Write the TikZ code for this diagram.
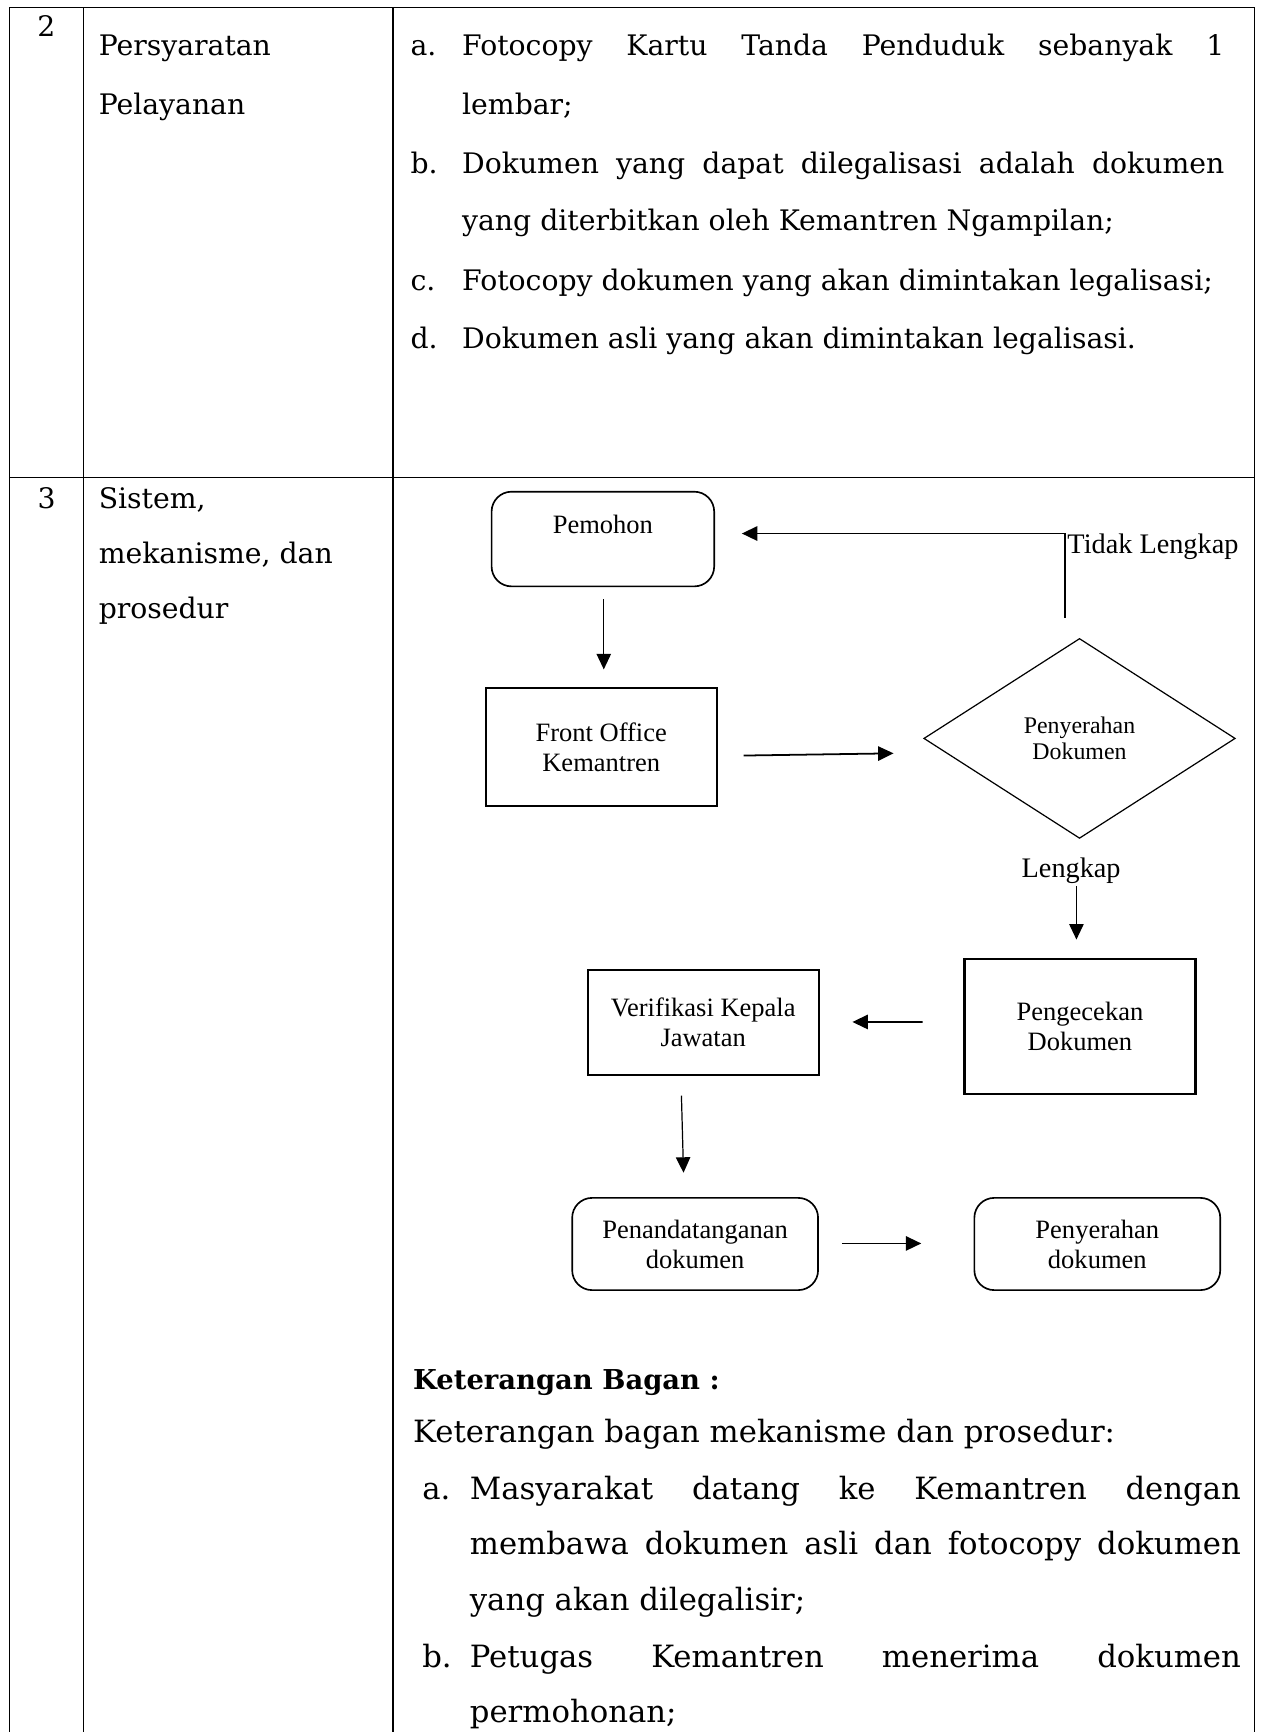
\documentclass[tikz,border=0pt]{standalone}
\usepackage{fontspec}
\usetikzlibrary{shapes.geometric,arrows.meta,calc}
% Wide serif face for the table, Times-metric face for the chart
\newfontfamily\bkface{DejaVu Serif}
\newfontfamily\tmface{Liberation Serif}
\newcommand\bkfont{\bkface\fontsize{12.8}{25.5}\selectfont}
\newcommand\bkbig{\bkface\fontsize{13.9}{25.5}\selectfont}
\newcommand\bkbold{\bkface\bfseries\fontsize{12.4}{25.5}\selectfont}
\newcommand\tmfont{\tmface\fontsize{12}{13.6}\selectfont}
\newcommand\lblfont{\tmface\fontsize{12.8}{14}\selectfont}
\newcommand\dmfont{\tmface\fontsize{10.8}{11.75}\selectfont}

\begin{document}
\begin{tikzpicture}[x=0.5pt,y=-0.5pt,
  grid/.style={line width=0.6pt},
  cell/.style={anchor=base west, inner sep=0pt, font=\bkfont},
  lowcell/.style={anchor=base west, inner sep=0pt, font=\bkbig},
  rbox/.style={draw, line width=0.75pt, rounded corners=9pt, align=center, font=\tmfont, inner sep=0pt},
  sbox/.style={draw, line width=1pt, align=center, font=\tmfont, inner sep=0pt},
  arr/.style={-{Triangle[length=7pt,width=6.5pt]}, line width=0.55pt},
  harr/.style={arr, line width=0.8pt},
  lbl/.style={inner sep=0pt, font=\lblfont}]
\useasboundingbox (0,0) rectangle (1142,1568);

% ---- table frame ----
\draw[grid] (8.5,1568) -- (8.5,6.6) -- (1135.5,6.6) -- (1135.5,1568);
\draw[grid] (75.3,6.6) -- (75.3,1568);
\draw[grid] (355.8,6.6) -- (355.8,1568);
\draw[grid] (8.5,432.5) -- (1135.5,432.5);

% ---- row 2 ----
\node[cell, anchor=base] (n2) at (42,32.6) {2};
\node[cell] (r2a) at (89,50) {Persyaratan};
\node[cell] (r2b) at (89,103.5) {Pelayanan};

\node[cell] (la) at (371.3,49.8) {a.};
\node[cell] (ta1) at (418,49.8) {\makebox[345pt][s]{Fotocopy Kartu Tanda Penduduk sebanyak 1}};
\node[cell] (ta2) at (418,103.5) {lembar;};
\node[cell] (lb) at (371.3,157) {b.};
\node[cell] (tb1) at (418,157) {\makebox[345pt][s]{Dokumen yang dapat dilegalisasi adalah dokumen}};
\node[cell] (tb2) at (418,208.3) {yang diterbitkan oleh Kemantren Ngampilan;};
\node[cell] (lc) at (371.3,262.6) {c.};
\node[cell] (tc) at (418,262.6) {Fotocopy dokumen yang akan dimintakan legalisasi;};
\node[cell] (ld) at (371.3,315.4) {d.};
\node[cell] (td) at (418,315.4) {Dokumen asli yang akan dimintakan legalisasi.};

% ---- row 3 ----
\node[cell, anchor=base] (n3) at (42.3,460) {3};
\node[cell] (r3a) at (89,460) {Sistem,};
\node[cell] (r3b) at (89,510) {mekanisme, dan};
\node[cell] (r3c) at (89,560) {prosedur};

% ---- flowchart ----
\node[rbox, minimum width=100.75pt, text height=18.7pt, text depth=24.15pt] (pem) at (545.8,488) {Pemohon};
\node[sbox, minimum width=104.5pt, minimum height=53.5pt] (fo) at (544.3,676.5) {Front Office\\Kemantren};
\node[diamond, draw, line width=0.55pt, minimum width=141pt, minimum height=90.5pt, inner sep=0pt, align=center, font=\dmfont] (dia) at (977.3,668.5) {Penyerahan\\Dokumen};
\node[sbox, minimum width=104.5pt, minimum height=61pt] (pc) at (977.7,929.5) {Pengecekan\\Dokumen};
\node[sbox, minimum width=104.5pt, minimum height=47.3pt] (vk) at (636.6,925.7) {Verifikasi Kepala\\Jawatan};
\node[rbox, minimum width=111.3pt, minimum height=41.75pt] (pt) at (629.3,1126.2) {Penandatanganan\\dokumen};
\node[rbox, minimum width=111.3pt, minimum height=41.75pt] (ps) at (993.4,1126.2) {Penyerahan\\dokumen};

\node[lbl, anchor=base west] (tl) at (966,501.3) {Tidak Lengkap};
\node[lbl, anchor=base] (lk) at (969.7,794.5) {Lengkap};

\draw[arr] ($(pem.south)+(0.8,11)$) -- ($(fo.north)+(2.3,-16)$);
\draw[harr] ($(fo.east)+(23.4,7.5)$) -- ($(dia.west)+(-26.8,13.5)$);
\draw[harr] ($(dia.north)+(-13.2,-18)$) |- ($(pem.east)+(24.3,-5)$);
\draw[arr] ($(dia.south)+(-2.8,42.5)$) -- ($(pc.north)+(-3.2,-16.9)$);
\draw[harr] ($(pc.west)+(-36.9,-4.3)$) -- ($(vk.east)+(29.6,-0.5)$);
\draw[arr] ($(vk.south)+(-19.7,17.8)$) -- ($(pt.north)+(-10.5,-22)$);
\draw[harr] ($(pt.east)+(20.7,-0.5)$) -- ($(ps.west)+(-47.3,-0.5)$);

% ---- explanation below the chart ----
\node[cell, font=\bkbold] (kb) at (373.7,1257.6) {Keterangan Bagan :};
\node[lowcell] (kt) at (373.7,1306) {Keterangan bagan mekanisme dan prosedur:};
\node[lowcell] (ka) at (381.9,1357.3) {a.};
\node[lowcell] (ka1) at (425,1357.3) {\makebox[349pt][s]{Masyarakat datang ke Kemantren dengan}};
\node[lowcell] (ka2) at (425,1407) {\makebox[349pt][s]{membawa dokumen asli dan fotocopy dokumen}};
\node[lowcell] (ka3) at (425,1458.4) {yang akan dilegalisir;};
\node[lowcell] (kbb) at (381.9,1509.7) {b.};
\node[lowcell] (kb1) at (425,1509.7) {\makebox[349pt][s]{Petugas Kemantren menerima dokumen}};
\node[lowcell] (kb2) at (425,1559.5) {permohonan;};
\end{tikzpicture}
\end{document}
